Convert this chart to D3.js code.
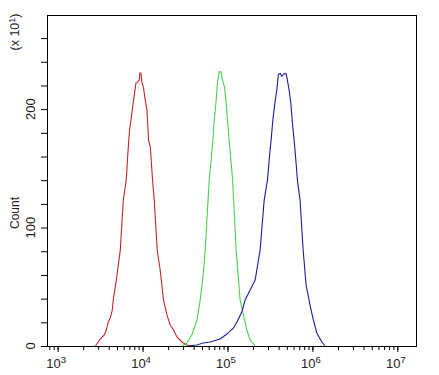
<!DOCTYPE html>
<html>
<head>
<meta charset="utf-8">
<script src="https://cdn.jsdelivr.net/npm/d3@7"></script>
<style>
  body { margin: 0; background: #fff; }
  svg { font-family: "Liberation Sans", Arial, sans-serif; }
  .axis path { display: none; }
  .axis line { stroke: #000; }
</style>
</head>
<body>
<script>
// histogram data, x = log10(fluorescence), y = count (x10^1)
var redLog = [3.445, 3.502, 3.549, 3.573, 3.596, 3.620, 3.644, 3.655, 3.691, 3.738, 3.773, 3.808, 3.824, 3.847, 3.864, 3.882, 3.906, 3.922, 3.941, 3.961, 3.969, 3.981, 3.993, 4.012, 4.032, 4.052, 4.059, 4.071, 4.091, 4.102, 4.118, 4.138, 4.173, 4.208, 4.247, 4.287, 4.326, 4.365, 4.405, 4.464, 4.522, 4.561];
var redCount = [0, 5.9, 9.3, 13.5, 20.3, 23.6, 30.4, 38.8, 55.7, 81, 123, 140, 159.5, 182.3, 190.7, 200.8, 213.5, 222, 222.8, 224.5, 230.6, 230.4, 222.8, 217.7, 207.6, 199.2, 190.7, 173.8, 168, 157, 140, 123, 81, 64, 38.8, 26.2, 17.7, 13.5, 7.6, 3.4, 0.8, 0];

var greenLog = [4.464, 4.522, 4.581, 4.640, 4.679, 4.714, 4.738, 4.761, 4.785, 4.808, 4.828, 4.844, 4.864, 4.882, 4.902, 4.926, 4.941, 4.965, 4.981, 5.000, 5.020, 5.040, 5.059, 5.079, 5.102, 5.126, 5.149, 5.188, 5.228, 5.267, 5.326];
var greenCount = [0, 2.5, 9.3, 21.9, 38.8, 60, 81, 110.5, 140, 157, 173.8, 190.7, 205, 222, 231.5, 231.5, 224.5, 218.8, 207.6, 190.7, 173.8, 157, 141.8, 114.8, 81, 60, 38.8, 26.2, 13.5, 5.1, 0];

var blueLog = [4.538, 4.640, 4.714, 4.796, 4.875, 4.914, 4.993, 5.071, 5.111, 5.169, 5.208, 5.267, 5.326, 5.384, 5.432, 5.471, 5.494, 5.514, 5.534, 5.558, 5.581, 5.600, 5.620, 5.640, 5.659, 5.687, 5.699, 5.726, 5.746, 5.769, 5.785, 5.805, 5.824, 5.855, 5.891, 5.926, 5.950, 5.973, 6.012, 6.052, 6.111, 6.149];
var blueCount = [0, 0.8, 2.5, 3.4, 5.1, 5.9, 10.1, 15.2, 20.3, 28.7, 38.8, 47.3, 55.7, 81, 123, 140, 159.5, 173.8, 190.7, 205, 216, 229.5, 230.1, 227.8, 229.5, 230.1, 227.3, 216, 205, 184.8, 173.8, 157, 140, 123, 81, 51.5, 43, 34, 21.9, 11, 3.4, 0];

var xMajorExp = [3, 4, 5, 6, 7];
var yTickValues = [0, 20, 40, 60, 80, 100, 120, 140, 160, 180, 200, 220, 240, 260];
var yLabelValues = [0, 100, 200];

var series = [
  { log: redLog, count: redCount, color: "#c3262b" },
  { log: greenLog, count: greenCount, color: "#4fd04f" },
  { log: blueLog, count: blueCount, color: "#1c1c9c" }
];

var W = 439, H = 375;
var margin = { left: 47, right: 416, top: 15, bottom: 346 };

var x = d3.scaleLog().domain([Math.pow(10, 2.875), Math.pow(10, 7.22)]).range([margin.left, margin.right]);
var y = d3.scaleLinear().domain([0, 279.5]).range([margin.bottom, margin.top]);

var svg = d3.select("body").append("svg")
    .attr("width", W)
    .attr("height", H);

// curves
var line = d3.line()
    .x(function (d) { return x(Math.pow(10, d[0])); })
    .y(function (d) { return y(d[1]); });

series.forEach(function (s) {
    var pts = s.log.map(function (v, i) { return [v, s.count[i]]; });
    svg.append("path")
        .attr("d", line(pts))
        .attr("fill", "none")
        .attr("stroke", s.color)
        .attr("stroke-width", 1.1);
});

// minor x ticks
svg.append("g")
    .attr("class", "axis")
    .attr("transform", "translate(0," + margin.bottom + ")")
    .call(d3.axisBottom(x).tickValues(x.ticks()).tickSize(4).tickFormat(""));

// major x ticks
var xMajor = svg.append("g")
    .attr("class", "axis")
    .attr("transform", "translate(0," + margin.bottom + ")")
    .call(d3.axisBottom(x)
        .tickValues(xMajorExp.map(function (e) { return Math.pow(10, e); }))
        .tickSize(6).tickFormat(""));

xMajor.selectAll(".tick").each(function (d, i) {
    var t = d3.select(this).append("text")
        .attr("x", -2)
        .attr("y", 22)
        .attr("text-anchor", "middle")
        .attr("fill", "#222")
        .attr("font-size", 13);
    t.append("tspan").text("10");
    t.append("tspan").attr("dy", -5).attr("font-size", 9.5).text(xMajorExp[i]);
});

// y ticks
svg.append("g")
    .attr("class", "axis")
    .attr("transform", "translate(" + margin.left + ",0)")
    .call(d3.axisLeft(y).tickValues(yTickValues).tickSize(6).tickFormat(""));

svg.selectAll(".ylab")
    .data(yLabelValues)
    .enter().append("text")
    .attr("class", "ylab")
    .attr("transform", function (d) { return "translate(35," + y(d) + ") rotate(-90)"; })
    .attr("text-anchor", "middle")
    .attr("fill", "#222")
    .attr("font-size", 13)
    .text(function (d) { return d; });

// frame
svg.append("rect")
    .attr("x", margin.left + 0.5)
    .attr("y", margin.top + 0.5)
    .attr("width", margin.right - margin.left)
    .attr("height", margin.bottom - margin.top)
    .attr("fill", "none")
    .attr("stroke", "#000");

// axis titles
svg.append("text")
    .attr("transform", "translate(19,213) rotate(-90)")
    .attr("text-anchor", "middle")
    .attr("fill", "#222")
    .attr("font-size", 12)
    .text("Count");

var mult = svg.append("text")
    .attr("transform", "translate(19,32) rotate(-90)")
    .attr("text-anchor", "middle")
    .attr("fill", "#222")
    .attr("font-size", 12.5);
mult.append("tspan").text("(x 10");
mult.append("tspan").attr("dy", -4.5).attr("font-size", 9).text("1");
mult.append("tspan").attr("dy", 4.5).text(")");
</script>
</body>
</html>
